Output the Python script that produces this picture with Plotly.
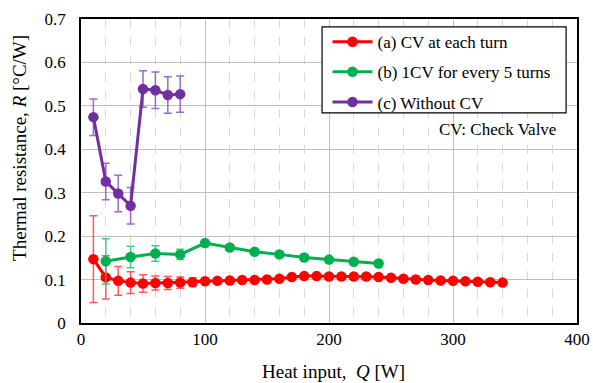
import plotly.graph_objects as go

# Data
q_a = [10, 20, 30, 40, 50, 60, 70, 80, 90, 100, 110, 120, 130, 140, 150, 160, 170,
       180, 190, 200, 210, 220, 230, 240, 250, 260, 270, 280, 290, 300, 310, 320, 330, 340]
r_a = [0.147, 0.105, 0.097, 0.093, 0.091, 0.092, 0.092, 0.093, 0.094, 0.096, 0.097,
       0.098, 0.099, 0.099, 0.100, 0.102, 0.106, 0.108, 0.108, 0.107, 0.107, 0.107,
       0.107, 0.106, 0.104, 0.102, 0.100, 0.099, 0.098, 0.097, 0.096, 0.095, 0.094, 0.093]
e_a = [0.100, 0.050, 0.033, 0.025, 0.020, 0.016, 0.015, 0.013, 0.010, 0.007, 0.005,
       0.004, 0.004, 0.003, 0.003, 0.003, 0.003, 0.003, 0.003, 0.003, 0.003, 0.003,
       0.003, 0.003, 0.003, 0.003, 0.003, 0.003, 0.003, 0.003, 0.003, 0.003, 0.003, 0.003]

q_b = [20, 40, 60, 80, 100, 120, 140, 160, 180, 200, 220, 240]
r_b = [0.142, 0.152, 0.160, 0.158, 0.184, 0.174, 0.164, 0.158, 0.151, 0.146, 0.141, 0.137]
e_b = [0.052, 0.025, 0.018, 0.012, 0.006, 0.004, 0.003, 0.003, 0.003, 0.003, 0.003, 0.003]

q_c = [10, 20, 30, 40, 50, 60, 70, 80]
r_c = [0.474, 0.326, 0.298, 0.270, 0.539, 0.536, 0.525, 0.527]
e_c = [0.042, 0.042, 0.042, 0.042, 0.042, 0.042, 0.042, 0.042]

names = ["(a) CV at each turn", "(b) 1CV for every 5 turns", "(c) Without CV"]
colors = ["#FF0000", "#00B050", "#7030A0"]
err_colors = ["rgba(255,60,60,0.85)", "rgba(40,190,110,0.85)", "rgba(140,80,190,0.85)"]

x_title = "Heat input,  <i>Q</i> [W]"
y_title = "Thermal resistance, <i>R</i> [°C/W]"
note = "CV: Check Valve"

FONT = "Liberation Serif, Times New Roman, serif"

fig = go.Figure()
for i, (qx, ry, ey) in enumerate([(q_a, r_a, e_a), (q_b, r_b, e_b), (q_c, r_c, e_c)]):
    fig.add_trace(go.Scatter(
        x=qx, y=ry, name=names[i], mode="lines+markers",
        line=dict(color=colors[i], width=3),
        marker=dict(color=colors[i], size=10.5, symbol="circle"),
        error_y=dict(type="data", array=ey, visible=True, color=err_colors[i],
                     thickness=1.5, width=4),
        legendgroup=str(i),
    ))

# legend frame (white box with black border)
fig.add_shape(type="rect", xref="paper", yref="paper",
              x0=0.486, x1=0.978, y0=0.691, y1=0.974, layer="above",
              line=dict(color="black", width=1.2), fillcolor="white")

fig.add_annotation(text=note, xref="paper", yref="paper",
                   x=0.839, y=0.638, xanchor="center", yanchor="middle", showarrow=False,
                   font=dict(family=FONT, size=17, color="black"))
fig.add_annotation(text=y_title, xref="paper", yref="paper", textangle=-90,
                   x=-0.123, y=0.576, xanchor="center", yanchor="middle", showarrow=False,
                   font=dict(family=FONT, size=19, color="black"))
fig.add_annotation(text=x_title, xref="paper", yref="paper",
                   x=0.51, y=-0.161, xanchor="center", yanchor="middle", showarrow=False,
                   font=dict(family=FONT, size=19, color="black"))

fig.update_layout(
    width=593, height=383,
    margin=dict(l=81, r=16, t=19, b=60, autoexpand=False),
    paper_bgcolor="white", plot_bgcolor="white",
    font=dict(family=FONT, size=17, color="black"),
    legend=dict(x=0.497, y=0.983, xanchor="left", yanchor="top",
                borderwidth=0, bgcolor="rgba(0,0,0,0)",
                font=dict(family=FONT, size=17, color="black"),
                tracegroupgap=5, itemwidth=40),
    xaxis=dict(range=[0, 400], dtick=100, tick0=0, showline=True, linecolor="black",
               linewidth=1.5, mirror=True, gridcolor="#BFBFBF", gridwidth=1.2,
               zeroline=False, ticks="", tickfont=dict(size=17), automargin=False,
               minor=dict(dtick=20, showgrid=True, gridcolor="#D9D9D9",
                          griddash="dash", gridwidth=1)),
    yaxis=dict(range=[0, 0.7], dtick=0.1, tick0=0, showline=True, linecolor="black",
               linewidth=1.5, mirror=True, gridcolor="#BFBFBF", gridwidth=1.2,
               zeroline=False, ticks="", tickfont=dict(size=17), tickformat="~g",
               ticklabelstandoff=10, automargin=False),
)

fig.write_html("out.html", post_script="document.body.style.margin='0';",
               config={"displayModeBar": False})
